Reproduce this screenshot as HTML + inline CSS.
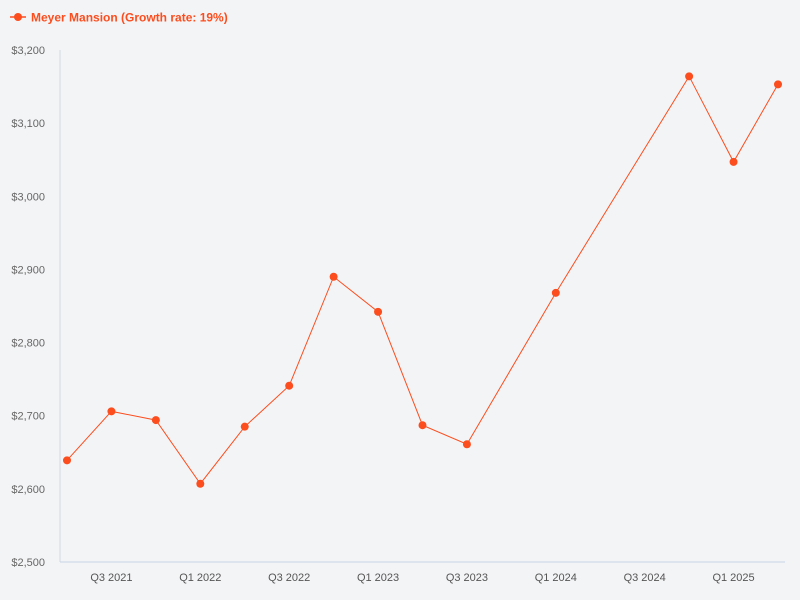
<!DOCTYPE html>
<html><head><meta charset="utf-8"><style>
body{margin:0;background:#f3f4f6;}
svg{display:block;font-family:"Liberation Sans",sans-serif;}
</style></head><body>
<svg id="chart" width="800" height="600">
<rect width="800" height="600" fill="#f3f4f6"/>
<g>
<line x1="10" y1="17" x2="26" y2="17" stroke="#fc4d1e" stroke-width="1.5"/>
<circle cx="18" cy="17" r="4" fill="#fc4d1e"/>
<text x="31" y="21.5" font-size="12" font-weight="bold" fill="#fc4d1e">Meyer Mansion (Growth rate: 19%)</text>
</g>
</svg>
<script>
const categories=["Q2 2021","Q3 2021","Q4 2021","Q1 2022","Q2 2022","Q3 2022","Q4 2022","Q1 2023","Q2 2023","Q3 2023","Q4 2023","Q1 2024","Q2 2024","Q3 2024","Q4 2024","Q1 2025","Q2 2025"];
const values=[2639,2706,2694,2607,2685,2741,2890,2842,2687,2661,null,2868,null,null,3164,3047,3153];
const yTicks=[2500,2600,2700,2800,2900,3000,3100,3200];
const xTickLabels=["Q3 2021","Q1 2022","Q3 2022","Q1 2023","Q3 2023","Q1 2024","Q3 2024","Q1 2025"];
const svg=document.getElementById('chart');
const NS='http://www.w3.org/2000/svg';
const L=60,R=785,T=50,B=562,pad=7;
const x=i=>L+pad+i*(R-L-2*pad)/(categories.length-1);
const y=v=>B-(v-2500)/(3200-2500)*(B-T);
function mk(tag,attrs){const e=document.createElementNS(NS,tag);for(const k in attrs)e.setAttribute(k,attrs[k]);svg.appendChild(e);return e;}
const ya=mk('line',{x1:L,y1:T,x2:L,y2:B,stroke:'#d0d8e4'});


const xa=mk('line',{x1:L,y1:B,x2:R,y2:B,stroke:'#c8d4e4'});


yTicks.forEach(v=>{
 const t=mk('text',{x:45,y:y(v)+4,'font-size':11,fill:'#666','text-anchor':'end'});
 t.textContent='$'+v.toLocaleString('en-US');
 
 
});
xTickLabels.forEach(lbl=>{
 const i=categories.indexOf(lbl);
 const t=mk('text',{x:x(i),y:581,'font-size':11,fill:'#555','text-anchor':'middle'});
 t.textContent=lbl;
 
 
});
const pts=[];values.forEach((v,i)=>{if(v!==null)pts.push([x(i),y(v)]);});
const p=mk('polyline',{points:pts.map(q=>q.join(',')).join(' '),fill:'none',stroke:'#fc4d1e','stroke-width':1});


values.forEach((v,i)=>{if(v===null)return;
 const c=mk('circle',{cx:x(i),cy:y(v),r:4,fill:'#fc4d1e'});
 
 
});
</script>
</body></html>
